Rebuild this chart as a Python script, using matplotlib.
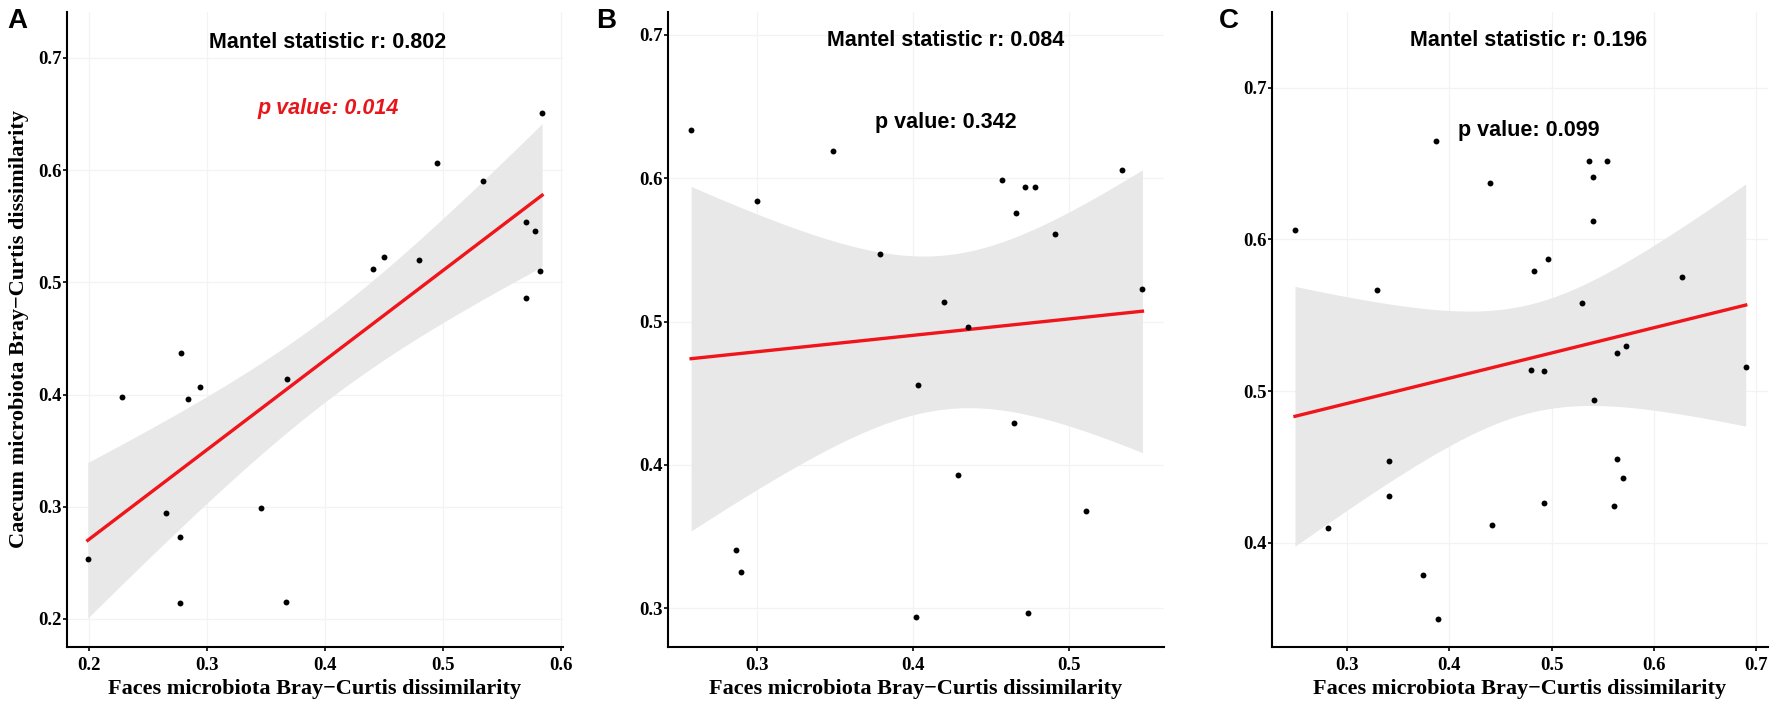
import matplotlib
matplotlib.use('Agg')
import matplotlib.pyplot as plt
import numpy as np

# panel A: faeces vs caecum
a_x = [0.199, 0.228, 0.265, 0.277, 0.277, 0.278, 0.284, 0.294, 0.346, 0.367, 0.368,
       0.441, 0.450, 0.480, 0.495, 0.534, 0.570, 0.578, 0.582, 0.570, 0.584]
a_y = [0.253, 0.398, 0.294, 0.273, 0.214, 0.437, 0.396, 0.407, 0.299, 0.215, 0.414,
       0.512, 0.523, 0.520, 0.606, 0.590, 0.554, 0.546, 0.510, 0.486, 0.651]

# panel B
b_x = [0.258, 0.300, 0.349, 0.379, 0.287, 0.290, 0.402, 0.403, 0.420, 0.435, 0.429,
       0.457, 0.466, 0.472, 0.478, 0.465, 0.474, 0.491, 0.511, 0.534, 0.547]
b_y = [0.634, 0.584, 0.619, 0.547, 0.341, 0.325, 0.294, 0.456, 0.514, 0.496, 0.393,
       0.599, 0.576, 0.594, 0.594, 0.429, 0.297, 0.561, 0.368, 0.606, 0.523]

# panel C
c_x = [0.249, 0.281, 0.329, 0.341, 0.341, 0.374, 0.389, 0.387, 0.440, 0.442, 0.480,
       0.483, 0.493, 0.493, 0.497, 0.530, 0.537, 0.554, 0.541, 0.541, 0.542, 0.564,
       0.573, 0.564, 0.570, 0.561, 0.628, 0.690]
c_y = [0.606, 0.410, 0.567, 0.454, 0.431, 0.379, 0.350, 0.665, 0.637, 0.412, 0.514,
       0.579, 0.513, 0.426, 0.587, 0.558, 0.652, 0.652, 0.641, 0.612, 0.494, 0.525,
       0.530, 0.455, 0.443, 0.424, 0.575, 0.516]

panels = ['A', 'B', 'C']
mantel_r = ['0.802', '0.084', '0.196']
p_values = ['0.014', '0.342', '0.099']
p_colors = ['#E8161B', 'black', 'black']

x_ticks = [[0.2, 0.3, 0.4, 0.5, 0.6], [0.3, 0.4, 0.5], [0.3, 0.4, 0.5, 0.6, 0.7]]
y_ticks = [[0.2, 0.3, 0.4, 0.5, 0.6, 0.7], [0.3, 0.4, 0.5, 0.6, 0.7], [0.4, 0.5, 0.6, 0.7]]
x_lims = [(0.1814, 0.6017), (0.2432, 0.5608), (0.2265, 0.7118)]
y_lims = [(0.175, 0.741), (0.273, 0.716), (0.3313, 0.750)]
text_x = [0.4025, 0.421, 0.478]
title_y = [0.714, 0.696, 0.731]
p_y = [0.655, 0.639, 0.672]

# two-sided 95% t quantiles by degrees of freedom
T95 = {19: 2.093, 26: 2.056}

SERIF = 'Liberation Serif'
SANS = 'Liberation Sans'

fig = plt.figure(figsize=(17.72, 7.10), dpi=100)
lefts = [67 / 1772, 668 / 1772, 1272 / 1772]
letter_x = [7 / 1772, 596 / 1772, 1219 / 1772]
width = 496 / 1772
bottom = 63 / 710
height = 635 / 710

data = [(a_x, a_y), (b_x, b_y), (c_x, c_y)]

for i, (xs, ys) in enumerate(data):
    ax = fig.add_axes([lefts[i], bottom, width, height])
    x = np.array(xs)
    y = np.array(ys)
    n = len(x)

    # linear fit with 95% confidence band (like geom_smooth(method='lm'))
    slope, icpt = np.polyfit(x, y, 1)
    resid = y - (slope * x + icpt)
    s = np.sqrt(np.sum(resid ** 2) / (n - 2))
    xg = np.linspace(x.min(), x.max(), 200)
    yg = slope * xg + icpt
    se = s * np.sqrt(1 / n + (xg - x.mean()) ** 2 / np.sum((x - x.mean()) ** 2))
    t = T95[n - 2]
    ax.fill_between(xg, yg - t * se, yg + t * se, color='#E8E8E8', lw=0, zorder=1)
    ax.plot(xg, yg, color='#F0151B', lw=2.4, zorder=2)
    ax.scatter(x, y, s=18, color='black', zorder=3, linewidths=0)

    ax.set_xlim(*x_lims[i])
    ax.set_ylim(*y_lims[i])
    ax.set_xticks(x_ticks[i])
    ax.set_yticks(y_ticks[i])
    ax.set_xticklabels([f'{v:.1f}' for v in x_ticks[i]])
    ax.set_yticklabels([f'{v:.1f}' for v in y_ticks[i]])
    for lab in ax.get_xticklabels() + ax.get_yticklabels():
        lab.set_fontfamily(SERIF)
        lab.set_fontweight('bold')
        lab.set_fontsize(13.5)
    ax.tick_params(direction='out', length=3, width=1.2, color='black')
    ax.tick_params(axis='x', pad=4)
    ax.tick_params(axis='y', pad=1)

    ax.grid(True, color='#F3F3F3', lw=0.9)
    ax.set_axisbelow(True)
    for side in ['top', 'right']:
        ax.spines[side].set_visible(False)
    for side in ['left', 'bottom']:
        ax.spines[side].set_linewidth(1.5)
        ax.spines[side].set_color('black')

    ax.set_xlabel('Faces microbiota Bray\u2212Curtis dissimilarity',
                  fontfamily=SERIF, fontweight='bold', fontsize=16, labelpad=4)
    if i == 0:
        ax.set_ylabel('Caecum microbiota Bray\u2212Curtis dissimilarity',
                      fontfamily=SERIF, fontweight='bold', fontsize=16, labelpad=6)

    ax.text(text_x[i], title_y[i], 'Mantel statistic r: ' + mantel_r[i],
            fontfamily=SANS, fontweight='bold', fontsize=15.5,
            ha='center', va='center')
    ax.text(text_x[i], p_y[i], 'p value: ' + p_values[i],
            fontfamily=SANS, fontweight='bold', fontsize=15.5,
            fontstyle='italic' if i == 0 else 'normal',
            color=p_colors[i], ha='center', va='center')

    fig.text(letter_x[i], 1 - 21 / 710, panels[i],
             fontfamily=SANS, fontweight='bold', fontsize=20,
             ha='left', va='center')

fig.savefig('out.png', dpi=100)
